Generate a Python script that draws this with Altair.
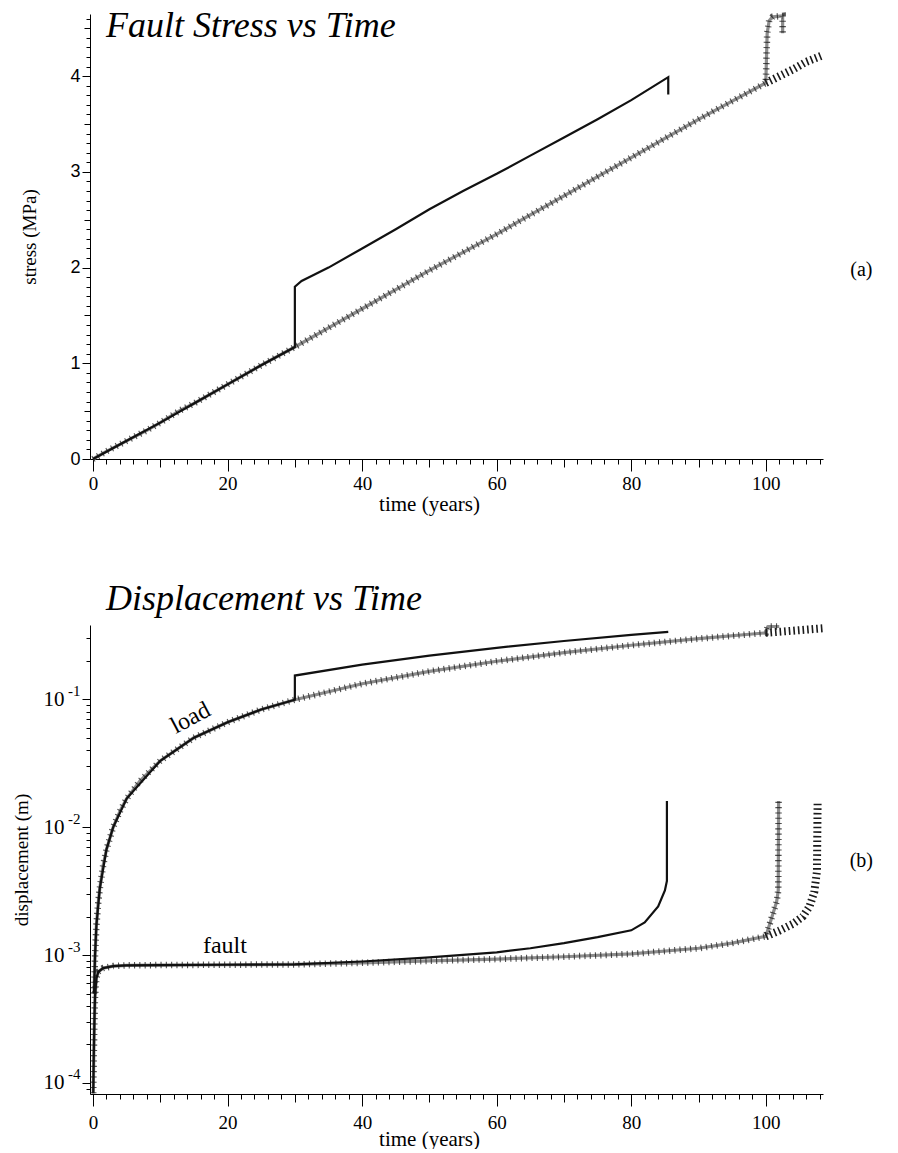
import altair as alt
import pandas as pd

# ---------------- panel (a): fault stress vs time ----------------
stress_base_t = [0, 2, 5, 8, 10, 13, 15, 20, 25, 30, 35, 40, 45, 50, 55, 60, 65, 70, 75,
                 80, 85, 90, 95, 100, 100.2, 100.5, 101, 102.5, 102.5]
stress_base_v = [0, 0.08, 0.19, 0.3, 0.38, 0.51, 0.58, 0.78, 0.98, 1.17, 1.37, 1.57, 1.77,
                 1.97, 2.16, 2.35, 2.55, 2.75, 2.95, 3.15, 3.35, 3.55, 3.74, 3.93, 4.45,
                 4.58, 4.62, 4.63, 4.45]
stress_black_t = [0, 5, 10, 15, 20, 25, 30, 30, 31, 33, 35, 40, 45, 50, 55, 60, 65, 70, 75,
                  80, 85.5, 85.5]
stress_black_v = [0, 0.19, 0.38, 0.58, 0.78, 0.98, 1.17, 1.8, 1.86, 1.93, 2.0, 2.2, 2.4,
                  2.61, 2.8, 2.98, 3.17, 3.36, 3.55, 3.75, 3.99, 3.81]
stress_hatch_t = [100, 102, 104, 106, 108.5]
stress_hatch_v = [3.93, 4.0, 4.07, 4.15, 4.22]

# ---------------- panel (b): displacement vs time ----------------
load_base_t = [0.15, 0.3, 0.5, 0.75, 1, 1.5, 2, 3, 4, 5, 7, 10, 15, 20, 25, 30, 40, 50, 60,
               70, 80, 90, 100, 100.3, 102]
load_base_v = [0.0005, 0.001, 0.0017, 0.0025, 0.0033, 0.005, 0.0067, 0.01, 0.0133, 0.0167,
               0.023, 0.033, 0.05, 0.066, 0.083, 0.099, 0.132, 0.165, 0.198, 0.231, 0.264,
               0.297, 0.33, 0.37, 0.37]
load_black_t = [0.15, 0.3, 0.5, 1, 2, 3, 5, 10, 15, 20, 25, 30, 30, 40, 50, 60, 70, 80, 85.5]
load_black_v = [0.0005, 0.001, 0.0017, 0.0033, 0.0067, 0.01, 0.0167, 0.033, 0.05, 0.066,
                0.083, 0.099, 0.153, 0.186, 0.219, 0.252, 0.285, 0.318, 0.336]
load_hatch_t = [100, 104, 108.5]
load_hatch_v = [0.33, 0.343, 0.358]

fault_base_t = [0.03, 0.1, 0.2, 0.3, 0.5, 0.8, 1.5, 3, 5, 10, 20, 30, 40, 50, 60, 70, 80, 90,
                95, 100, 100.8, 101.6, 101.85, 101.9]
fault_base_v = [8.3e-5, 1.5e-4, 3.0e-4, 4.8e-4, 6.6e-4, 7.4e-4, 7.9e-4, 8.2e-4, 8.3e-4,
                8.35e-4, 8.4e-4, 8.45e-4, 8.7e-4, 9.0e-4, 9.3e-4, 9.7e-4, 1.02e-3, 1.13e-3,
                1.24e-3, 1.4e-3, 1.9e-3, 2.6e-3, 3.2e-3, 0.016]
fault_black_t = [0.03, 0.1, 0.2, 0.3, 0.5, 0.8, 1.5, 3, 5, 10, 20, 30, 40, 50, 60, 65, 70, 75,
                 80, 82, 84, 85, 85.3, 85.3]
fault_black_v = [8.3e-5, 1.5e-4, 3.0e-4, 4.8e-4, 6.6e-4, 7.4e-4, 7.9e-4, 8.2e-4, 8.3e-4,
                 8.35e-4, 8.4e-4, 8.45e-4, 8.9e-4, 9.6e-4, 1.05e-3, 1.13e-3, 1.24e-3,
                 1.38e-3, 1.56e-3, 1.8e-3, 2.4e-3, 3.2e-3, 3.8e-3, 0.016]
fault_hatch_t = [100, 102, 104, 105.5, 106.5, 107.2, 107.6, 107.7]
fault_hatch_v = [1.4e-3, 1.55e-3, 1.75e-3, 2.0e-3, 2.4e-3, 3.1e-3, 4.5e-3, 0.016]

# annotations
curve_labels = ["load", "fault"]
curve_label_t = [14.5, 19.6]
curve_label_v = [0.071, 1.17e-3]
panel_labels = ["(a)", "(b)"]
panel_label_t = [114.2, 114.2]
panel_label_v = [1.98, 0.0054]
decades = [1e-4, 1e-3, 1e-2, 1e-1]

SERIF = "Liberation Serif"
X_DOMAIN = [-0.45, 108.5]


def frame(pairs):
    rows = []
    for name, ts, vs in pairs:
        for i, (t, v) in enumerate(zip(ts, vs)):
            rows.append({"t": t, "v": v, "i": i, "curve": name})
    return pd.DataFrame(rows)


def x_axis(label_pad, title_pad):
    return alt.Axis(
        values=list(range(0, 109, 2)),
        labelExpr="datum.value % 20 == 0 ? datum.label : ''",
        tickSize={"condition": [
            {"test": "datum.value % 20 == 0", "value": 12},
            {"test": "datum.value % 10 == 0", "value": 8}], "value": 5},
        labelPadding=label_pad, labelFlush=False, labelOverlap=False,
        labelFontSize=19, titlePadding=title_pad, titleX=339, titleFontSize=21,
    )


stress_ticks = [round(i * 0.1, 1) for i in range(47)]
y_axis_top = alt.Axis(
    values=stress_ticks,
    labelExpr="abs(datum.value - round(datum.value)) < 0.001 ? format(datum.value, 'd') : ''",
    tickSize={"condition": [
        {"test": "abs(datum.value - round(datum.value)) < 0.001", "value": 8},
        {"test": "abs(datum.value*2 - round(datum.value*2)) < 0.001", "value": 6}], "value": 4},
    labelFont="Liberation Sans", labelFontSize=18, labelPadding=2, labelOverlap=False,
    titlePadding=30, titleFontSize=19,
)

log_ticks = []
for d in [1e-5, 1e-4, 1e-3, 1e-2, 1e-1]:
    for m in range(1, 10):
        val = float(f"{m * d:.6g}")
        if 8.2e-5 <= val <= 0.38:
            log_ticks.append(val)
DEC = "abs(log(datum.value)/LN10 - round(log(datum.value)/LN10)) < 0.001"
E = "round(log(datum.value)/LN10)"
y_axis_bot = alt.Axis(
    orient="left",
    values=log_ticks,
    labelExpr=f"{DEC} ? '10' : ''",
    tickSize={"condition": {"test": DEC, "value": 8}, "value": 4},
    labelFontSize=21, labelPadding=18, labelOverlap=False, labelFlush=False,
    titlePadding=12, titleFontSize=19,
)
y_axis_exp = alt.Axis(
    orient="left",
    values=decades,
    labelExpr=f"'-' + format(-{E}, 'd')",
    ticks=False, domain=False, tickSize=0, grid=False,
    labelFontSize=15, labelPadding=10, labelOffset=-9, labelOverlap=False,
    labelFlush=False, title=None,
)


def line_layers(base_df, black_df, hatch_df, x, y):
    enc = dict(x=x, y=y, order=alt.Order("i:Q"), detail="curve:N")
    gray = alt.Chart(base_df).mark_line(color="#8c8c8c", strokeWidth=3.2,
                                        strokeJoin="round").encode(**enc)
    ticks = alt.Chart(base_df).mark_line(color="#1a1a1a", strokeWidth=6.5,
                                         strokeDash=[1.1, 4.2], opacity=0.75,
                                         strokeCap="butt").encode(**enc)
    black = alt.Chart(black_df).mark_line(color="#111111", strokeWidth=2.2).encode(**enc)
    hatch = alt.Chart(hatch_df).mark_line(color="#1a1a1a", strokeWidth=8,
                                          strokeDash=[1.6, 3.0],
                                          strokeCap="butt").encode(**enc)
    return [gray, ticks, black, hatch]


TITLE_STYLE = dict(anchor="start", frame="group", font=SERIF, fontSize=36,
                   fontStyle="italic", fontWeight="normal", color="black",
                   baseline="alphabetic", offset=0, dx=16)

# ---------------- top chart ----------------
xa = alt.X("t:Q", scale=alt.Scale(domain=X_DOMAIN, nice=False, zero=False),
           axis=x_axis(3, 0), title="time (years)")
ya = alt.Y("v:Q", scale=alt.Scale(domain=[0, 4.65], nice=False, zero=False),
           axis=y_axis_top, title="stress (MPa)")

s_base = frame([("base", stress_base_t, stress_base_v)])
s_black = frame([("black", stress_black_t, stress_black_v)])
s_hatch = frame([("hatch", stress_hatch_t, stress_hatch_v)])
s_lab = pd.DataFrame({"t": [panel_label_t[0]], "v": [panel_label_v[0]], "label": [panel_labels[0]]})

top_label = alt.Chart(s_lab).mark_text(font=SERIF, fontSize=20, color="black").encode(
    x=xa, y=ya, text="label:N")

top = alt.layer(*line_layers(s_base, s_black, s_hatch, xa, ya), top_label).properties(
    width=733, height=445,
    title=alt.TitleParams("Fault Stress vs Time", dy=70, **TITLE_STYLE),
)

# ---------------- bottom chart ----------------
ylog = alt.Scale(type="log", domain=[8.2e-5, 0.38], nice=False)
xb = alt.X("t:Q", scale=alt.Scale(domain=X_DOMAIN, nice=False, zero=False),
           axis=x_axis(7, -4), title="time (years)")
yb = alt.Y("v:Q", scale=ylog, axis=y_axis_bot, title="displacement (m)")

d_base = frame([("load", load_base_t, load_base_v), ("fault", fault_base_t, fault_base_v)])
d_black = frame([("load", load_black_t, load_black_v), ("fault", fault_black_t, fault_black_v)])
d_hatch = frame([("load", load_hatch_t, load_hatch_v), ("fault", fault_hatch_t, fault_hatch_v)])

load_txt = pd.DataFrame({"t": [curve_label_t[0]], "v": [curve_label_v[0]], "label": [curve_labels[0]]})
fault_txt = pd.DataFrame({"t": [curve_label_t[1]], "v": [curve_label_v[1]], "label": [curve_labels[1]]})
b_lab = pd.DataFrame({"t": [panel_label_t[1]], "v": [panel_label_v[1]], "label": [panel_labels[1]]})
exp_df = pd.DataFrame({"t": [0.0] * len(decades), "v": decades})

load_mark = alt.Chart(load_txt).mark_text(font=SERIF, fontSize=24, angle=332,
                                          color="black").encode(x=xb, y=yb, text="label:N")
fault_mark = alt.Chart(fault_txt).mark_text(font=SERIF, fontSize=24,
                                            color="black").encode(x=xb, y=yb, text="label:N")
bot_label = alt.Chart(b_lab).mark_text(font=SERIF, fontSize=20, color="black").encode(
    x=xb, y=yb, text="label:N")

bottom_main = alt.layer(*line_layers(d_base, d_black, d_hatch, xb, yb),
                        load_mark, fault_mark, bot_label)
exp_layer = alt.Chart(exp_df).mark_point(opacity=0).encode(
    x=xb, y=alt.Y("v:Q", scale=ylog, axis=y_axis_exp, title=None))

bottom = alt.layer(bottom_main, exp_layer).resolve_axis(y="independent").properties(
    width=733, height=469,
    title=alt.TitleParams("Displacement vs Time", dy=34, **TITLE_STYLE),
)

chart = alt.vconcat(top, bottom, spacing=67).properties(
    padding={"left": 12, "top": 2, "right": 0, "bottom": 0},
    background="white",
).configure_view(stroke=None).configure_axis(
    grid=False, domainColor="black", tickColor="black", labelColor="black",
    titleColor="black", labelFont=SERIF, titleFont=SERIF, titleFontWeight="normal",
    domainWidth=1, tickWidth=1,
)

chart.save("out.html", embed_options={"renderer": "svg", "actions": False})
